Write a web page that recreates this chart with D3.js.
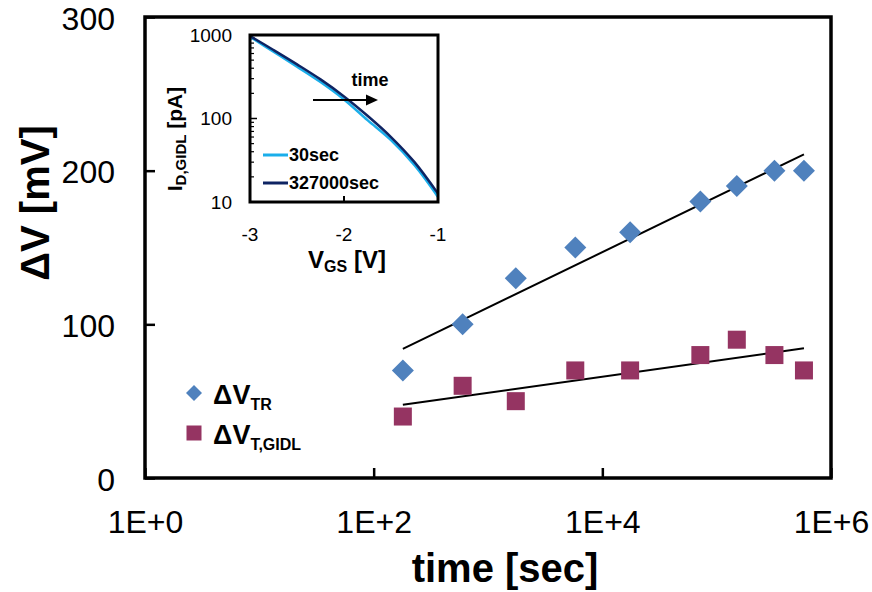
<!DOCTYPE html>
<html>
<head>
<meta charset="utf-8">
<script src="https://cdn.jsdelivr.net/npm/d3@7"></script>
<style>
  html, body { margin: 0; padding: 0; background: #fff; }
  svg { display: block; font-family: "Liberation Sans", Arial, sans-serif; }
</style>
</head>
<body>
<svg id="chart" width="872" height="592"></svg>
<script>
// Threshold-voltage shift vs. stress time
const timeSec   = [180, 600, 1750, 5800, 17500, 72000, 150000, 320000, 580000];
const dVTR      = [70, 100, 130, 150, 160, 180, 190, 200, 200];
const dVTGIDL   = [40, 60, 50, 70, 70, 80, 90, 80, 70];
const xTickVals = [1, 1e2, 1e4, 1e6];
const xTickText = ["1E+0", "1E+2", "1E+4", "1E+6"];
const yTickVals = [0, 100, 200, 300];

// Inset: GIDL current vs. gate voltage
const vgs        = [-3, -2.75, -2.5, -2.25, -2, -1.75, -1.5, -1.25, -1];
const idGidl30   = [955, 631, 417, 273, 169, 95.5, 55, 27.5, 11.5];
const idGidl327k = [973, 661, 445, 294, 184, 108, 60, 30, 12.6];
const insetXTicks = [-3, -2, -1];
const insetYTicks = [10, 100, 1000];

const colTR = "#4F81BD", colGIDL = "#953462";
const col30 = "#1AAEEA", col327k = "#0E2463";

const svg = d3.select("#chart");

// ---- main plot ----
const L = 145, R = 831, T = 17, B = 478;
const x = d3.scaleLog().domain([1, 1e6]).range([L, R]);
const y = d3.scaleLinear().domain([0, 300]).range([B, T]);

const yAxis = d3.axisLeft(y).tickValues(yTickVals).tickSizeInner(-10).tickSizeOuter(0).tickPadding(30);
const gy = svg.append("g").attr("transform", `translate(${L},0)`).call(yAxis);
const xAxis = d3.axisBottom(x).tickValues(xTickVals).tickFormat((d, i) => xTickText[i])
  .tickSizeInner(-10).tickSizeOuter(0).tickPadding(32);
const gx = svg.append("g").attr("transform", `translate(0,${B})`).call(xAxis);
[gx, gy].forEach(g => {
  g.select(".domain").remove();
  g.selectAll(".tick line").attr("stroke", "#000").attr("stroke-width", 2.5);
  g.selectAll(".tick text").attr("font-size", 32).attr("fill", "#000")
    .attr("font-family", "'Liberation Sans', Arial, sans-serif");
});
gy.selectAll(".tick text").attr("dy", "0.38em");
gx.selectAll(".tick text").attr("dy", "0.71em");

svg.append("rect").attr("x", L).attr("y", T).attr("width", R - L).attr("height", B - T)
  .attr("fill", "none").attr("stroke", "#000").attr("stroke-width", 3.5);

// axis titles
svg.append("text").attr("x", 505).attr("y", 582).attr("text-anchor", "middle")
  .attr("font-size", 40).attr("font-weight", "bold").text("time [sec]");
svg.append("text").attr("transform", "translate(49,203) rotate(-90)").attr("text-anchor", "middle")
  .attr("font-size", 40).attr("font-weight", "bold").text("ΔV [mV]");

// logarithmic least-squares trend lines
function logFit(xs, ys) {
  const lx = xs.map(Math.log10);
  const mx = d3.mean(lx), my = d3.mean(ys);
  const num = d3.sum(lx, (v, i) => (v - mx) * (ys[i] - my));
  const den = d3.sum(lx, v => (v - mx) * (v - mx));
  const a = num / den, b = my - a * mx;
  return t => a * Math.log10(t) + b;
}
[dVTR, dVTGIDL].forEach(vals => {
  const f = logFit(timeSec, vals);
  const t0 = timeSec[0], t1 = timeSec[timeSec.length - 1];
  svg.append("line")
    .attr("x1", x(t0)).attr("y1", y(f(t0)))
    .attr("x2", x(t1)).attr("y2", y(f(t1)))
    .attr("stroke", "#000").attr("stroke-width", 2);
});

// markers
const dHalf = 11, sq = 18;
svg.append("g").selectAll("path").data(timeSec).join("path")
  .attr("d", (t, i) => {
    const cx = x(t), cy = y(dVTR[i]);
    return `M${cx},${cy - dHalf}L${cx + dHalf},${cy}L${cx},${cy + dHalf}L${cx - dHalf},${cy}Z`;
  })
  .attr("fill", colTR);
svg.append("g").selectAll("rect").data(timeSec).join("rect")
  .attr("x", t => x(t) - sq / 2)
  .attr("y", (t, i) => y(dVTGIDL[i]) - sq / 2)
  .attr("width", sq).attr("height", sq)
  .attr("fill", colGIDL);

// legend
const lg = svg.append("g");
lg.append("path").attr("d", "M194,385L202,393L194,401L186,393Z").attr("fill", colTR);
lg.append("rect").attr("x", 186.5).attr("y", 425.5).attr("width", 15).attr("height", 15).attr("fill", colGIDL);
const lt1 = lg.append("text").attr("x", 213).attr("y", 404).attr("font-size", 27).attr("font-weight", "bold");
lt1.append("tspan").text("ΔV");
lt1.append("tspan").attr("font-size", 16).attr("dy", 6).text("TR");
const lt2 = lg.append("text").attr("x", 213).attr("y", 444).attr("font-size", 27).attr("font-weight", "bold");
lt2.append("tspan").text("ΔV");
lt2.append("tspan").attr("font-size", 16).attr("dy", 6).text("T,GIDL");

// ---- inset ----
const iL = 250, iR = 438, iT = 35, iB = 202;
const xi = d3.scaleLinear().domain([-3, -1]).range([iL, iR]);
const yi = d3.scaleLog().domain([10, 1000]).range([iB, iT]);
const inset = svg.append("g");
inset.append("rect").attr("x", iL).attr("y", iT).attr("width", iR - iL).attr("height", iB - iT).attr("fill", "#fff");

inset.append("clipPath").attr("id", "insetClip").append("rect")
  .attr("x", iL).attr("y", iT).attr("width", iR - iL).attr("height", iB - iT);

// minor log ticks on the left edge
const minorTicks = yi.ticks().filter(v => !insetYTicks.includes(v));
inset.append("g").selectAll("line").data(minorTicks).join("line")
  .attr("x1", iL).attr("x2", iL + 4).attr("y1", d => yi(d)).attr("y2", d => yi(d))
  .attr("stroke", "#000").attr("stroke-width", 1.2);
inset.append("g").selectAll("line").data(insetYTicks.slice(1, 2)).join("line")
  .attr("x1", iL).attr("x2", iL + 7).attr("y1", d => yi(d)).attr("y2", d => yi(d))
  .attr("stroke", "#000").attr("stroke-width", 1.5);
inset.append("g").selectAll("line").data(insetXTicks.slice(1, 2)).join("line")
  .attr("x1", d => xi(d)).attr("x2", d => xi(d)).attr("y1", iB).attr("y2", iB - 6)
  .attr("stroke", "#000").attr("stroke-width", 2);

const line = d3.line().x((d, i) => xi(vgs[i])).y(d => yi(d)).curve(d3.curveCatmullRom);
const curves = inset.append("g").attr("clip-path", "url(#insetClip)");
curves.append("path").attr("d", line(idGidl30)).attr("fill", "none").attr("stroke", col30).attr("stroke-width", 2.5);
curves.append("path").attr("d", line(idGidl327k)).attr("fill", "none").attr("stroke", col327k).attr("stroke-width", 2.5);

inset.append("rect").attr("x", iL).attr("y", iT).attr("width", iR - iL).attr("height", iB - iT)
  .attr("fill", "none").attr("stroke", "#000").attr("stroke-width", 3);

// inset tick labels
inset.append("g").selectAll("text").data(insetYTicks).join("text")
  .attr("x", 232).attr("y", d => yi(d)).attr("dy", "0.36em").attr("text-anchor", "end")
  .attr("font-size", 19).text(d => d);
inset.append("g").selectAll("text").data(insetXTicks).join("text")
  .attr("x", d => xi(d)).attr("y", 241).attr("text-anchor", "middle")
  .attr("font-size", 19).text(d => d);

// inset axis titles
const ixT = inset.append("text").attr("x", 347).attr("y", 268).attr("text-anchor", "middle")
  .attr("font-size", 24).attr("font-weight", "bold");
ixT.append("tspan").text("V");
ixT.append("tspan").attr("font-size", 16).attr("dy", 4).text("GS");
ixT.append("tspan").attr("dy", -4).text(" [V]");
const iyT = inset.append("text").attr("transform", "translate(182,139) rotate(-90)")
  .attr("text-anchor", "middle").attr("font-size", 21).attr("font-weight", "bold");
iyT.append("tspan").text("I");
iyT.append("tspan").attr("font-size", 15).attr("dy", 4).text("D,GIDL");
iyT.append("tspan").attr("dy", -4).text(" [pA]");

// inset legend
const legRows = [{ label: "30sec", c: col30, y: 155 }, { label: "327000sec", c: col327k, y: 183 }];
legRows.forEach(r => {
  inset.append("line").attr("x1", 263).attr("x2", 288).attr("y1", r.y).attr("y2", r.y)
    .attr("stroke", r.c).attr("stroke-width", 3);
  inset.append("text").attr("x", 289).attr("y", r.y).attr("dy", "0.36em")
    .attr("font-size", 18).attr("font-weight", "bold").text(r.label);
});

// "time" arrow
inset.append("text").attr("x", 370).attr("y", 86).attr("text-anchor", "middle")
  .attr("font-size", 18).attr("font-weight", "bold").text("time");
inset.append("line").attr("x1", 313).attr("x2", 368).attr("y1", 100).attr("y2", 100)
  .attr("stroke", "#000").attr("stroke-width", 2);
inset.append("path").attr("d", "M378,100L366,94.5L366,105.5Z").attr("fill", "#000");
</script>
</body>
</html>
